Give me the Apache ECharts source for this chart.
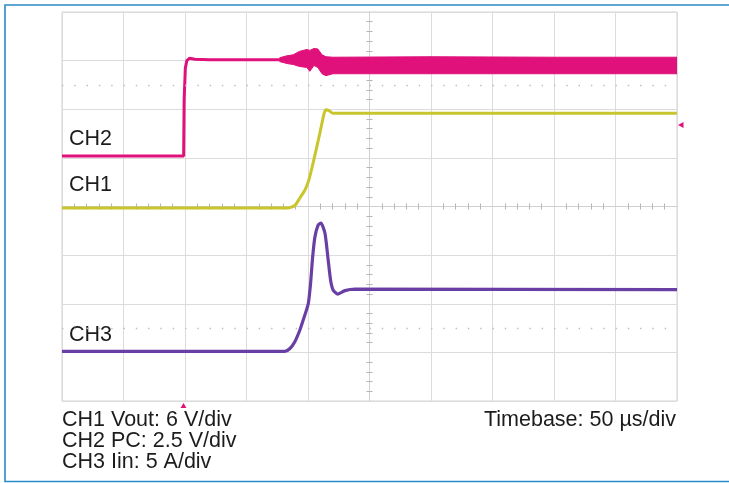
<!DOCTYPE html>
<html><head><meta charset="utf-8">
<script src="https://cdn.jsdelivr.net/npm/echarts@6/dist/echarts.min.js"></script>
<style>html,body{margin:0;padding:0;background:#fff}#c{width:729px;height:483px}</style>
</head><body><div id="c"></div><script>
// time axis in µs (10 div x 50 µs), vertical axis in divisions (-4..4)
const xTicks = { min: 0, max: 500, interval: 50 };
const yTicks = { min: -4, max: 4, interval: 1 };

// CH2 (PC) – clean part before the noise burst
const ch2T = [0, 98.9, 99.3, 100.3, 101.5, 103.8, 108, 120, 150, 177];
const ch2V = [1.04, 1.04, 2.2, 2.85, 3.0, 3.05, 3.03, 3.02, 3.02, 3.02];

// CH2 noise envelope after the burst
const bandT  = [177, 183, 188, 193, 199, 201.5, 204.8, 208, 211.4, 214.6, 220.3, 300, 400, 500];
const bandHi = [3.06, 3.10, 3.12, 3.19, 3.23, 3.21, 3.25, 3.24, 3.12, 3.08, 3.07, 3.08, 3.07, 3.07];
const bandLo = [2.98, 2.94, 2.92, 2.88, 2.86, 2.78, 2.90, 2.86, 2.73, 2.69, 2.73, 2.73, 2.73, 2.73];

// CH1 (Vout)
const ch1T = [0, 183.6, 189.3, 193.4, 197.5, 200.7, 203.2, 206.4, 209.7, 213.0, 214.6, 217.1, 220.3, 500];
const ch1V = [-0.03, -0.03, 0.02, 0.175, 0.34, 0.546, 0.794, 1.144, 1.515, 1.907, 1.99, 1.97, 1.918, 1.918];

// CH3 (Iin)
const ch3T = [0, 181.2, 185.3, 189.3, 193.4, 196.7, 200.2, 202.1, 203.7, 205.6, 208.3, 210.5, 213.8, 216.4, 218.4, 220.5, 224.3, 230.0, 238.2, 500];
const ch3V = [-2.98, -2.98, -2.92, -2.78, -2.54, -2.29, -2.00, -1.58, -1.06, -0.63, -0.38, -0.34, -0.55, -1.10, -1.52, -1.72, -1.80, -1.73, -1.70, -1.71];

const chLabels = ['CH2', 'CH1', 'CH3'];
const infoLines = ['CH1 Vout: 6 V/div', 'CH2 PC: 2.5 V/div', 'CH3 Iin: 5 A/div'];
const timebaseText = 'Timebase: 50 µs/div';

const pink = '#e0117a', yellow = '#c8c62c', purple = '#6a3fa5';
const font = '"Liberation Sans", Arial, Helvetica, sans-serif';

const zip = (a, b) => a.map((t, i) => [t, b[i]]);

const chart = echarts.init(document.getElementById('c'), null, { renderer: 'canvas' });

const gridCol = '#dcdcdc';
const tickStyle = { show: true, splitNumber: 5, length: 3, lineStyle: { color: '#b4b4b4', width: 1 } };

function xAx(pos, main) {
  return {
    type: 'value', min: xTicks.min, max: xTicks.max, interval: xTicks.interval,
    position: pos, offset: -194.5,
    axisLine: { show: main, onZero: false, lineStyle: { color: '#cfcfcf' } },
    axisTick: { show: false }, minorTick: tickStyle, axisLabel: { show: false },
    splitLine: { show: main, lineStyle: { color: gridCol } }
  };
}
function yAx(pos, main) {
  return {
    type: 'value', min: yTicks.min, max: yTicks.max, interval: yTicks.interval,
    position: pos, offset: -307.5,
    axisLine: { show: main, onZero: false, lineStyle: { color: '#cfcfcf' } },
    axisTick: { show: false }, minorTick: tickStyle, axisLabel: { show: false },
    splitLine: { show: main, lineStyle: { color: gridCol } }
  };
}

const txt = (s, x, y, align) => ({
  type: 'text', x, y, silent: true,
  style: { text: s, font: '21.5px ' + font, fill: '#1c1c1c', textAlign: align || 'left', textVerticalAlign: 'middle' }
});

chart.setOption({
  animation: false,
  backgroundColor: '#fff',
  grid: { left: 62, top: 12, right: 52, bottom: 82, show: true, borderColor: '#d2d2d2', borderWidth: 1 },
  xAxis: [xAx('bottom', true), xAx('top', false)],
  yAxis: [yAx('left', true), yAx('right', false)],
  series: [
    {
      type: 'line', data: zip(ch1T, ch1V), showSymbol: false, symbol: 'none',
      smooth: 0.2,
      lineStyle: { color: yellow, width: 3 }, z: 3,
      markLine: {
        silent: true, symbol: 'none', label: { show: false },
        lineStyle: { color: '#bcbcbc', width: 1.4, type: [1.4, 10.9] },
        data: [{ yAxis: 2.5 }, { yAxis: -2.5 }]
      }
    },
    {
      type: 'line', data: zip(ch3T, ch3V), showSymbol: false, symbol: 'none',
      smooth: 0.2,
      lineStyle: { color: purple, width: 3.2 }, z: 3
    },
    {
      type: 'line', data: zip(ch2T, ch2V), showSymbol: false, symbol: 'none',
      lineStyle: { color: pink, width: 3 }, z: 4
    },
    {
      type: 'custom', z: 4, clip: true,
      data: [[bandT[0], bandHi[0]]],
      renderItem: function (params, api) {
        const pts = [];
        for (let i = 0; i < bandT.length; i++) pts.push(api.coord([bandT[i], bandHi[i]]));
        for (let i = bandT.length - 1; i >= 0; i--) pts.push(api.coord([bandT[i], bandLo[i]]));
        return { type: 'polygon', shape: { points: pts }, style: { fill: pink, stroke: pink, lineWidth: 1 } };
      }
    }
  ],
  graphic: [
    { type: 'rect', silent: true, shape: { x: 5, y: 5, width: 760, height: 476.5 },
      style: { fill: 'none', stroke: '#2a8bc6', lineWidth: 1.6 } },
    txt(chLabels[0], 69, 139.5),
    txt(chLabels[1], 69, 185.5),
    txt(chLabels[2], 69, 335.5),
    txt(infoLines[0], 62, 420),
    txt(infoLines[1], 62, 441),
    txt(infoLines[2], 62, 462.5),
    txt(timebaseText, 676, 420, 'right'),
    { type: 'polygon', silent: true, shape: { points: [[183.5, 403], [180.5, 408], [186.5, 408]] }, style: { fill: pink } },
    { type: 'polygon', silent: true, shape: { points: [[678, 125], [683.5, 122], [683.5, 128]] }, style: { fill: pink } }
  ]
});
</script></body></html>
